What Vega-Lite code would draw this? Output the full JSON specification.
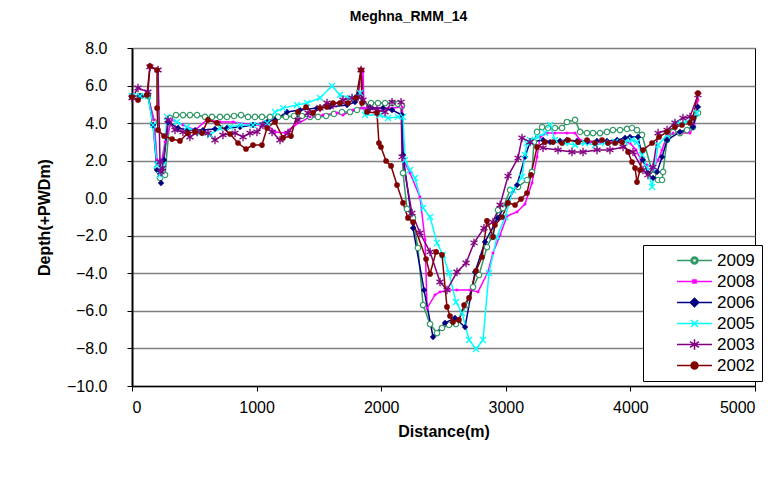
{
"$schema": "https://vega.github.io/schema/vega-lite/v6.json",
"width": 623, "height": 338,
"autosize": {"type": "none"},
"padding": {"left": 132, "top": 48, "right": 27, "bottom": 91},
"background": "white",
"title": {"text": "Meghna_RMM_14", "font": "Liberation Sans", "fontSize": 14, "fontWeight": "bold", "color": "black", "anchor": "middle", "dx": -35, "offset": 16},
"config": {
 "view": {"stroke": "#000000", "strokeWidth": 1},
 "axis": {"labelFont": "Liberation Sans", "labelFontSize": 16, "labelColor": "black", "titleFont": "Liberation Sans", "titleFontSize": 16, "titleFontWeight": "bold", "titleColor": "black", "domainColor": "black", "tickColor": "black", "tickSize": 5}
},
"data": {"values": [
{"year":"2009","i":1,"d":0,"v":5.44},{"year":"2009","i":2,"d":64,"v":5.44},{"year":"2009","i":3,"d":128,"v":5.44},{"year":"2009","i":4,"d":177,"v":4.06},{"year":"2009","i":5,"d":201,"v":1.61},{"year":"2009","i":6,"d":225,"v":1.08},{"year":"2009","i":7,"d":265,"v":1.24},{"year":"2009","i":8,"d":305,"v":4.27},{"year":"2009","i":9,"d":353,"v":4.43},{"year":"2009","i":10,"d":409,"v":4.43},{"year":"2009","i":11,"d":465,"v":4.43},{"year":"2009","i":12,"d":522,"v":4.43},{"year":"2009","i":13,"d":586,"v":4.33},{"year":"2009","i":14,"d":642,"v":4.33},{"year":"2009","i":15,"d":706,"v":4.33},{"year":"2009","i":16,"d":762,"v":4.33},{"year":"2009","i":17,"d":819,"v":4.38},{"year":"2009","i":18,"d":875,"v":4.43},{"year":"2009","i":19,"d":931,"v":4.33},{"year":"2009","i":20,"d":987,"v":4.33},{"year":"2009","i":21,"d":1043,"v":4.33},{"year":"2009","i":22,"d":1108,"v":4.33},{"year":"2009","i":23,"d":1172,"v":4.33},{"year":"2009","i":24,"d":1236,"v":4.33},{"year":"2009","i":25,"d":1300,"v":4.38},{"year":"2009","i":26,"d":1364,"v":4.38},{"year":"2009","i":27,"d":1429,"v":4.33},{"year":"2009","i":28,"d":1493,"v":4.33},{"year":"2009","i":29,"d":1557,"v":4.38},{"year":"2009","i":30,"d":1621,"v":4.49},{"year":"2009","i":31,"d":1685,"v":4.59},{"year":"2009","i":32,"d":1750,"v":4.59},{"year":"2009","i":33,"d":1806,"v":4.7},{"year":"2009","i":34,"d":1862,"v":4.91},{"year":"2009","i":35,"d":1918,"v":5.07},{"year":"2009","i":36,"d":1974,"v":5.07},{"year":"2009","i":37,"d":2031,"v":5.07},{"year":"2009","i":38,"d":2087,"v":5.07},{"year":"2009","i":39,"d":2135,"v":5.02},{"year":"2009","i":40,"d":2167,"v":4.91},{"year":"2009","i":41,"d":2175,"v":1.34},{"year":"2009","i":42,"d":2207,"v":-0.57},{"year":"2009","i":43,"d":2255,"v":-1.05},{"year":"2009","i":44,"d":2295,"v":-2.65},{"year":"2009","i":45,"d":2336,"v":-5.69},{"year":"2009","i":46,"d":2392,"v":-6.7},{"year":"2009","i":47,"d":2448,"v":-7.18},{"year":"2009","i":48,"d":2488,"v":-6.91},{"year":"2009","i":49,"d":2544,"v":-6.75},{"year":"2009","i":50,"d":2600,"v":-6.7},{"year":"2009","i":51,"d":2681,"v":-5.69},{"year":"2009","i":52,"d":2737,"v":-4.73},{"year":"2009","i":53,"d":2785,"v":-4.09},{"year":"2009","i":54,"d":2849,"v":-2.6},{"year":"2009","i":55,"d":2889,"v":-2.06},{"year":"2009","i":56,"d":2937,"v":-0.63},{"year":"2009","i":57,"d":2978,"v":-0.52},{"year":"2009","i":58,"d":3034,"v":0.44},{"year":"2009","i":59,"d":3098,"v":0.6},{"year":"2009","i":60,"d":3170,"v":0.97},{"year":"2009","i":61,"d":3210,"v":1.4},{"year":"2009","i":62,"d":3226,"v":2.99},{"year":"2009","i":63,"d":3251,"v":3.53},{"year":"2009","i":64,"d":3291,"v":3.79},{"year":"2009","i":65,"d":3339,"v":3.74},{"year":"2009","i":66,"d":3395,"v":3.74},{"year":"2009","i":67,"d":3451,"v":3.74},{"year":"2009","i":68,"d":3491,"v":4.06},{"year":"2009","i":69,"d":3556,"v":4.17},{"year":"2009","i":70,"d":3596,"v":3.53},{"year":"2009","i":71,"d":3652,"v":3.47},{"year":"2009","i":72,"d":3700,"v":3.47},{"year":"2009","i":73,"d":3756,"v":3.47},{"year":"2009","i":74,"d":3812,"v":3.53},{"year":"2009","i":75,"d":3860,"v":3.63},{"year":"2009","i":76,"d":3917,"v":3.63},{"year":"2009","i":77,"d":3973,"v":3.69},{"year":"2009","i":78,"d":4013,"v":3.74},{"year":"2009","i":79,"d":4053,"v":3.63},{"year":"2009","i":80,"d":4093,"v":3.37},{"year":"2009","i":81,"d":4182,"v":1.24},{"year":"2009","i":82,"d":4222,"v":0.97},{"year":"2009","i":83,"d":4254,"v":0.97},{"year":"2009","i":84,"d":4262,"v":1.4},{"year":"2009","i":85,"d":4294,"v":3.1},{"year":"2009","i":86,"d":4342,"v":3.53},{"year":"2009","i":87,"d":4398,"v":3.47},{"year":"2009","i":88,"d":4454,"v":3.63},{"year":"2009","i":89,"d":4502,"v":3.79},{"year":"2009","i":90,"d":4542,"v":4.54},
{"year":"2008","i":1,"d":0,"v":5.39},{"year":"2008","i":2,"d":64,"v":5.44},{"year":"2008","i":3,"d":128,"v":5.44},{"year":"2008","i":4,"d":177,"v":4.17},{"year":"2008","i":5,"d":201,"v":2.04},{"year":"2008","i":6,"d":225,"v":1.5},{"year":"2008","i":7,"d":265,"v":3.0},{"year":"2008","i":8,"d":321,"v":4.17},{"year":"2008","i":9,"d":409,"v":3.9},{"year":"2008","i":10,"d":506,"v":3.63},{"year":"2008","i":11,"d":602,"v":4.17},{"year":"2008","i":12,"d":706,"v":4.06},{"year":"2008","i":13,"d":811,"v":4.06},{"year":"2008","i":14,"d":971,"v":3.9},{"year":"2008","i":15,"d":1084,"v":3.9},{"year":"2008","i":16,"d":1148,"v":3.53},{"year":"2008","i":17,"d":1228,"v":3.47},{"year":"2008","i":18,"d":1308,"v":3.9},{"year":"2008","i":19,"d":1429,"v":4.33},{"year":"2008","i":20,"d":1533,"v":4.43},{"year":"2008","i":21,"d":1645,"v":4.54},{"year":"2008","i":22,"d":1693,"v":4.43},{"year":"2008","i":23,"d":1774,"v":4.7},{"year":"2008","i":24,"d":1846,"v":4.8},{"year":"2008","i":25,"d":1854,"v":6.83},{"year":"2008","i":26,"d":1862,"v":4.8},{"year":"2008","i":27,"d":1886,"v":4.8},{"year":"2008","i":28,"d":1990,"v":4.8},{"year":"2008","i":29,"d":2095,"v":4.8},{"year":"2008","i":30,"d":2170,"v":4.86},{"year":"2008","i":31,"d":2178,"v":2.04},{"year":"2008","i":32,"d":2231,"v":1.34},{"year":"2008","i":33,"d":2311,"v":0.07},{"year":"2008","i":34,"d":2352,"v":-2.22},{"year":"2008","i":35,"d":2368,"v":-5.85},{"year":"2008","i":36,"d":2432,"v":-5.15},{"year":"2008","i":37,"d":2472,"v":-4.99},{"year":"2008","i":38,"d":2536,"v":-4.89},{"year":"2008","i":39,"d":2608,"v":-4.89},{"year":"2008","i":40,"d":2713,"v":-4.89},{"year":"2008","i":41,"d":2777,"v":-4.99},{"year":"2008","i":42,"d":2857,"v":-3.93},{"year":"2008","i":43,"d":2897,"v":-2.92},{"year":"2008","i":44,"d":2954,"v":-1.96},{"year":"2008","i":45,"d":3010,"v":-0.95},{"year":"2008","i":46,"d":3090,"v":-0.73},{"year":"2008","i":47,"d":3154,"v":-0.31},{"year":"2008","i":48,"d":3210,"v":0.81},{"year":"2008","i":49,"d":3251,"v":2.2},{"year":"2008","i":50,"d":3275,"v":3.26},{"year":"2008","i":51,"d":3331,"v":3.47},{"year":"2008","i":52,"d":3395,"v":3.47},{"year":"2008","i":53,"d":3491,"v":3.47},{"year":"2008","i":54,"d":3556,"v":3.47},{"year":"2008","i":55,"d":3596,"v":3.1},{"year":"2008","i":56,"d":3676,"v":2.99},{"year":"2008","i":57,"d":3756,"v":2.99},{"year":"2008","i":58,"d":3836,"v":2.99},{"year":"2008","i":59,"d":3917,"v":3.05},{"year":"2008","i":60,"d":3997,"v":2.94},{"year":"2008","i":61,"d":4045,"v":2.57},{"year":"2008","i":62,"d":4085,"v":2.04},{"year":"2008","i":63,"d":4133,"v":1.77},{"year":"2008","i":64,"d":4182,"v":1.61},{"year":"2008","i":65,"d":4222,"v":2.04},{"year":"2008","i":66,"d":4254,"v":2.57},{"year":"2008","i":67,"d":4294,"v":3.37},{"year":"2008","i":68,"d":4342,"v":3.47},{"year":"2008","i":69,"d":4398,"v":3.47},{"year":"2008","i":70,"d":4478,"v":3.47},{"year":"2008","i":71,"d":4510,"v":3.9},{"year":"2008","i":72,"d":4542,"v":5.23},
{"year":"2006","i":1,"d":0,"v":5.44},{"year":"2006","i":2,"d":64,"v":5.44},{"year":"2006","i":3,"d":128,"v":5.5},{"year":"2006","i":4,"d":169,"v":3.9},{"year":"2006","i":5,"d":201,"v":1.5},{"year":"2006","i":6,"d":233,"v":0.81},{"year":"2006","i":7,"d":257,"v":2.04},{"year":"2006","i":8,"d":289,"v":4.06},{"year":"2006","i":9,"d":369,"v":3.74},{"year":"2006","i":10,"d":441,"v":3.63},{"year":"2006","i":11,"d":506,"v":3.63},{"year":"2006","i":12,"d":570,"v":3.63},{"year":"2006","i":13,"d":666,"v":3.69},{"year":"2006","i":14,"d":762,"v":3.74},{"year":"2006","i":15,"d":867,"v":3.79},{"year":"2006","i":16,"d":971,"v":3.9},{"year":"2006","i":17,"d":1084,"v":4.06},{"year":"2006","i":18,"d":1148,"v":4.17},{"year":"2006","i":19,"d":1244,"v":4.59},{"year":"2006","i":20,"d":1348,"v":4.7},{"year":"2006","i":21,"d":1485,"v":4.8},{"year":"2006","i":22,"d":1589,"v":4.86},{"year":"2006","i":23,"d":1726,"v":4.96},{"year":"2006","i":24,"d":1790,"v":5.12},{"year":"2006","i":25,"d":1814,"v":5.5},{"year":"2006","i":26,"d":1910,"v":4.8},{"year":"2006","i":27,"d":2015,"v":4.8},{"year":"2006","i":28,"d":2087,"v":4.7},{"year":"2006","i":29,"d":2167,"v":4.43},{"year":"2006","i":30,"d":2175,"v":2.3},{"year":"2006","i":31,"d":2255,"v":-1.59},{"year":"2006","i":32,"d":2344,"v":-4.89},{"year":"2006","i":33,"d":2416,"v":-7.39},{"year":"2006","i":34,"d":2512,"v":-6.64},{"year":"2006","i":35,"d":2592,"v":-6.38},{"year":"2006","i":36,"d":2673,"v":-6.86},{"year":"2006","i":37,"d":2753,"v":-3.93},{"year":"2006","i":38,"d":2833,"v":-2.33},{"year":"2006","i":39,"d":2937,"v":-1.05},{"year":"2006","i":40,"d":3090,"v":0.7},{"year":"2006","i":41,"d":3154,"v":2.2},{"year":"2006","i":42,"d":3194,"v":2.99},{"year":"2006","i":43,"d":3299,"v":3.1},{"year":"2006","i":44,"d":3355,"v":2.99},{"year":"2006","i":45,"d":3435,"v":3.05},{"year":"2006","i":46,"d":3491,"v":3.1},{"year":"2006","i":47,"d":3572,"v":3.05},{"year":"2006","i":48,"d":3652,"v":2.99},{"year":"2006","i":49,"d":3732,"v":3.05},{"year":"2006","i":50,"d":3812,"v":3.05},{"year":"2006","i":51,"d":3893,"v":3.1},{"year":"2006","i":52,"d":3957,"v":3.21},{"year":"2006","i":53,"d":3997,"v":3.26},{"year":"2006","i":54,"d":4061,"v":3.26},{"year":"2006","i":55,"d":4101,"v":2.04},{"year":"2006","i":56,"d":4141,"v":1.34},{"year":"2006","i":57,"d":4182,"v":1.08},{"year":"2006","i":58,"d":4214,"v":1.4},{"year":"2006","i":59,"d":4254,"v":2.2},{"year":"2006","i":60,"d":4294,"v":3.1},{"year":"2006","i":61,"d":4398,"v":3.53},{"year":"2006","i":62,"d":4502,"v":3.79},{"year":"2006","i":63,"d":4542,"v":4.86},
{"year":"2005","i":1,"d":0,"v":5.44},{"year":"2005","i":2,"d":64,"v":5.44},{"year":"2005","i":3,"d":128,"v":5.44},{"year":"2005","i":4,"d":169,"v":3.9},{"year":"2005","i":5,"d":201,"v":1.77},{"year":"2005","i":6,"d":225,"v":1.24},{"year":"2005","i":7,"d":249,"v":1.77},{"year":"2005","i":8,"d":281,"v":4.33},{"year":"2005","i":9,"d":361,"v":4.06},{"year":"2005","i":10,"d":441,"v":3.79},{"year":"2005","i":11,"d":546,"v":3.47},{"year":"2005","i":12,"d":626,"v":3.37},{"year":"2005","i":13,"d":706,"v":3.74},{"year":"2005","i":14,"d":787,"v":3.79},{"year":"2005","i":15,"d":867,"v":3.9},{"year":"2005","i":16,"d":971,"v":3.9},{"year":"2005","i":17,"d":1084,"v":4.01},{"year":"2005","i":18,"d":1148,"v":4.59},{"year":"2005","i":19,"d":1212,"v":4.8},{"year":"2005","i":20,"d":1324,"v":4.96},{"year":"2005","i":21,"d":1405,"v":5.07},{"year":"2005","i":22,"d":1509,"v":5.34},{"year":"2005","i":23,"d":1605,"v":5.98},{"year":"2005","i":24,"d":1669,"v":5.5},{"year":"2005","i":25,"d":1750,"v":5.34},{"year":"2005","i":26,"d":1814,"v":5.39},{"year":"2005","i":27,"d":1830,"v":5.6},{"year":"2005","i":28,"d":1870,"v":4.43},{"year":"2005","i":29,"d":1990,"v":4.43},{"year":"2005","i":30,"d":2055,"v":4.27},{"year":"2005","i":31,"d":2135,"v":4.33},{"year":"2005","i":32,"d":2175,"v":4.33},{"year":"2005","i":33,"d":2191,"v":2.04},{"year":"2005","i":34,"d":2231,"v":1.5},{"year":"2005","i":35,"d":2271,"v":1.08},{"year":"2005","i":36,"d":2336,"v":-0.52},{"year":"2005","i":37,"d":2392,"v":-1.0},{"year":"2005","i":38,"d":2448,"v":-2.38},{"year":"2005","i":39,"d":2496,"v":-3.02},{"year":"2005","i":40,"d":2544,"v":-3.98},{"year":"2005","i":41,"d":2600,"v":-5.53},{"year":"2005","i":42,"d":2649,"v":-6.11},{"year":"2005","i":43,"d":2705,"v":-7.55},{"year":"2005","i":44,"d":2761,"v":-8.03},{"year":"2005","i":45,"d":2817,"v":-7.55},{"year":"2005","i":46,"d":2865,"v":-3.98},{"year":"2005","i":47,"d":2929,"v":-2.06},{"year":"2005","i":48,"d":2994,"v":-1.0},{"year":"2005","i":49,"d":3058,"v":0.44},{"year":"2005","i":50,"d":3130,"v":1.13},{"year":"2005","i":51,"d":3154,"v":2.3},{"year":"2005","i":52,"d":3170,"v":2.94},{"year":"2005","i":53,"d":3194,"v":3.1},{"year":"2005","i":54,"d":3259,"v":3.26},{"year":"2005","i":55,"d":3315,"v":3.47},{"year":"2005","i":56,"d":3355,"v":3.9},{"year":"2005","i":57,"d":3395,"v":3.1},{"year":"2005","i":58,"d":3475,"v":2.94},{"year":"2005","i":59,"d":3556,"v":2.83},{"year":"2005","i":60,"d":3636,"v":2.94},{"year":"2005","i":61,"d":3716,"v":2.83},{"year":"2005","i":62,"d":3796,"v":2.94},{"year":"2005","i":63,"d":3877,"v":2.99},{"year":"2005","i":64,"d":3957,"v":2.99},{"year":"2005","i":65,"d":4013,"v":3.1},{"year":"2005","i":66,"d":4053,"v":2.99},{"year":"2005","i":67,"d":4093,"v":2.3},{"year":"2005","i":68,"d":4133,"v":1.66},{"year":"2005","i":69,"d":4174,"v":0.6},{"year":"2005","i":70,"d":4222,"v":2.83},{"year":"2005","i":71,"d":4294,"v":3.37},{"year":"2005","i":72,"d":4374,"v":4.01},{"year":"2005","i":73,"d":4454,"v":4.06},{"year":"2005","i":74,"d":4534,"v":4.54},
{"year":"2003","i":1,"d":0,"v":5.34},{"year":"2003","i":2,"d":48,"v":5.87},{"year":"2003","i":3,"d":128,"v":5.66},{"year":"2003","i":4,"d":144,"v":6.99},{"year":"2003","i":5,"d":209,"v":6.83},{"year":"2003","i":6,"d":225,"v":1.93},{"year":"2003","i":7,"d":233,"v":1.4},{"year":"2003","i":8,"d":245,"v":1.6},{"year":"2003","i":9,"d":289,"v":4.17},{"year":"2003","i":10,"d":345,"v":3.63},{"year":"2003","i":11,"d":409,"v":3.53},{"year":"2003","i":12,"d":465,"v":3.26},{"year":"2003","i":13,"d":522,"v":3.53},{"year":"2003","i":14,"d":610,"v":3.47},{"year":"2003","i":15,"d":666,"v":3.1},{"year":"2003","i":16,"d":730,"v":3.37},{"year":"2003","i":17,"d":827,"v":3.47},{"year":"2003","i":18,"d":891,"v":3.26},{"year":"2003","i":19,"d":947,"v":3.47},{"year":"2003","i":20,"d":1003,"v":3.53},{"year":"2003","i":21,"d":1051,"v":3.9},{"year":"2003","i":22,"d":1124,"v":3.53},{"year":"2003","i":23,"d":1188,"v":3.1},{"year":"2003","i":24,"d":1252,"v":3.47},{"year":"2003","i":25,"d":1332,"v":4.17},{"year":"2003","i":26,"d":1413,"v":4.54},{"year":"2003","i":27,"d":1509,"v":4.8},{"year":"2003","i":28,"d":1565,"v":5.07},{"year":"2003","i":29,"d":1613,"v":4.96},{"year":"2003","i":30,"d":1693,"v":5.23},{"year":"2003","i":31,"d":1766,"v":5.34},{"year":"2003","i":32,"d":1814,"v":5.39},{"year":"2003","i":33,"d":1838,"v":6.83},{"year":"2003","i":34,"d":1854,"v":5.23},{"year":"2003","i":35,"d":1910,"v":4.8},{"year":"2003","i":36,"d":1966,"v":4.7},{"year":"2003","i":37,"d":2031,"v":4.59},{"year":"2003","i":38,"d":2087,"v":5.12},{"year":"2003","i":39,"d":2159,"v":5.12},{"year":"2003","i":40,"d":2167,"v":2.2},{"year":"2003","i":41,"d":2247,"v":-0.79},{"year":"2003","i":42,"d":2311,"v":-1.85},{"year":"2003","i":43,"d":2392,"v":-2.86},{"year":"2003","i":44,"d":2472,"v":-4.46},{"year":"2003","i":45,"d":2528,"v":-4.89},{"year":"2003","i":46,"d":2608,"v":-3.93},{"year":"2003","i":47,"d":2681,"v":-3.45},{"year":"2003","i":48,"d":2745,"v":-2.38},{"year":"2003","i":49,"d":2825,"v":-1.59},{"year":"2003","i":50,"d":2897,"v":-1.27},{"year":"2003","i":51,"d":2954,"v":-0.36},{"year":"2003","i":52,"d":3018,"v":1.18},{"year":"2003","i":53,"d":3098,"v":2.14},{"year":"2003","i":54,"d":3130,"v":3.21},{"year":"2003","i":55,"d":3194,"v":2.99},{"year":"2003","i":56,"d":3299,"v":2.68},{"year":"2003","i":57,"d":3419,"v":2.57},{"year":"2003","i":58,"d":3531,"v":2.46},{"year":"2003","i":59,"d":3620,"v":2.46},{"year":"2003","i":60,"d":3732,"v":2.57},{"year":"2003","i":61,"d":3836,"v":2.57},{"year":"2003","i":62,"d":3941,"v":2.73},{"year":"2003","i":63,"d":4021,"v":2.46},{"year":"2003","i":64,"d":4101,"v":1.5},{"year":"2003","i":65,"d":4141,"v":1.24},{"year":"2003","i":66,"d":4182,"v":1.66},{"year":"2003","i":67,"d":4222,"v":3.47},{"year":"2003","i":68,"d":4294,"v":3.63},{"year":"2003","i":69,"d":4358,"v":4.01},{"year":"2003","i":70,"d":4422,"v":4.27},{"year":"2003","i":71,"d":4478,"v":4.33},{"year":"2003","i":72,"d":4542,"v":5.5},
{"year":"2002","i":1,"d":0,"v":5.39},{"year":"2002","i":2,"d":48,"v":5.23},{"year":"2002","i":3,"d":120,"v":5.5},{"year":"2002","i":4,"d":144,"v":7.04},{"year":"2002","i":5,"d":201,"v":6.83},{"year":"2002","i":6,"d":201,"v":4.8},{"year":"2002","i":7,"d":209,"v":3.63},{"year":"2002","i":8,"d":257,"v":3.31},{"year":"2002","i":9,"d":321,"v":3.15},{"year":"2002","i":10,"d":385,"v":3.05},{"year":"2002","i":11,"d":449,"v":3.47},{"year":"2002","i":12,"d":506,"v":3.53},{"year":"2002","i":13,"d":562,"v":3.47},{"year":"2002","i":14,"d":610,"v":4.17},{"year":"2002","i":15,"d":682,"v":4.01},{"year":"2002","i":16,"d":787,"v":3.42},{"year":"2002","i":17,"d":851,"v":2.94},{"year":"2002","i":18,"d":915,"v":2.62},{"year":"2002","i":19,"d":971,"v":2.83},{"year":"2002","i":20,"d":1043,"v":2.83},{"year":"2002","i":21,"d":1084,"v":3.74},{"year":"2002","i":22,"d":1148,"v":4.06},{"year":"2002","i":23,"d":1212,"v":3.21},{"year":"2002","i":24,"d":1276,"v":3.31},{"year":"2002","i":25,"d":1332,"v":4.59},{"year":"2002","i":26,"d":1397,"v":4.86},{"year":"2002","i":27,"d":1453,"v":4.54},{"year":"2002","i":28,"d":1509,"v":4.8},{"year":"2002","i":29,"d":1565,"v":4.86},{"year":"2002","i":30,"d":1613,"v":5.07},{"year":"2002","i":31,"d":1669,"v":5.07},{"year":"2002","i":32,"d":1734,"v":5.07},{"year":"2002","i":33,"d":1798,"v":5.34},{"year":"2002","i":34,"d":1838,"v":6.83},{"year":"2002","i":35,"d":1846,"v":5.07},{"year":"2002","i":36,"d":1886,"v":4.59},{"year":"2002","i":37,"d":1966,"v":4.54},{"year":"2002","i":38,"d":1982,"v":2.94},{"year":"2002","i":39,"d":1998,"v":2.73},{"year":"2002","i":40,"d":2039,"v":1.98},{"year":"2002","i":41,"d":2079,"v":1.72},{"year":"2002","i":42,"d":2127,"v":0.7},{"year":"2002","i":43,"d":2175,"v":-0.25},{"year":"2002","i":44,"d":2215,"v":-1.05},{"year":"2002","i":45,"d":2255,"v":-1.27},{"year":"2002","i":46,"d":2360,"v":-3.24},{"year":"2002","i":47,"d":2392,"v":-4.03},{"year":"2002","i":48,"d":2440,"v":-2.86},{"year":"2002","i":49,"d":2488,"v":-3.02},{"year":"2002","i":50,"d":2528,"v":-5.79},{"year":"2002","i":51,"d":2552,"v":-6.27},{"year":"2002","i":52,"d":2576,"v":-6.59},{"year":"2002","i":53,"d":2624,"v":-6.48},{"year":"2002","i":54,"d":2665,"v":-5.69},{"year":"2002","i":55,"d":2705,"v":-5.31},{"year":"2002","i":56,"d":2761,"v":-3.87},{"year":"2002","i":57,"d":2809,"v":-3.13},{"year":"2002","i":58,"d":2849,"v":-1.21},{"year":"2002","i":59,"d":2897,"v":-2.06},{"year":"2002","i":60,"d":2913,"v":-1.43},{"year":"2002","i":61,"d":2970,"v":-1.0},{"year":"2002","i":62,"d":3018,"v":-0.25},{"year":"2002","i":63,"d":3074,"v":-0.36},{"year":"2002","i":64,"d":3122,"v":-0.04},{"year":"2002","i":65,"d":3170,"v":0.28},{"year":"2002","i":66,"d":3202,"v":1.24},{"year":"2002","i":67,"d":3251,"v":2.73},{"year":"2002","i":68,"d":3315,"v":2.99},{"year":"2002","i":69,"d":3379,"v":2.99},{"year":"2002","i":70,"d":3451,"v":2.94},{"year":"2002","i":71,"d":3499,"v":3.1},{"year":"2002","i":72,"d":3580,"v":2.99},{"year":"2002","i":73,"d":3652,"v":3.1},{"year":"2002","i":74,"d":3716,"v":2.94},{"year":"2002","i":75,"d":3772,"v":3.1},{"year":"2002","i":76,"d":3820,"v":2.94},{"year":"2002","i":77,"d":3877,"v":2.94},{"year":"2002","i":78,"d":3933,"v":2.99},{"year":"2002","i":79,"d":3981,"v":2.46},{"year":"2002","i":80,"d":4013,"v":1.93},{"year":"2002","i":81,"d":4037,"v":1.61},{"year":"2002","i":82,"d":4053,"v":0.86},{"year":"2002","i":83,"d":4077,"v":1.5},{"year":"2002","i":84,"d":4101,"v":2.57},{"year":"2002","i":85,"d":4174,"v":2.94},{"year":"2002","i":86,"d":4230,"v":3.26},{"year":"2002","i":87,"d":4294,"v":3.53},{"year":"2002","i":88,"d":4358,"v":3.79},{"year":"2002","i":89,"d":4414,"v":3.9},{"year":"2002","i":90,"d":4478,"v":4.01},{"year":"2002","i":91,"d":4502,"v":4.27},{"year":"2002","i":92,"d":4542,"v":5.6}
]},
"encoding": {
 "x": {"field": "d", "type": "quantitative", "scale": {"domain": [0, 5000], "nice": false},
  "axis": {"values": [0, 1000, 2000, 3000, 4000, 5000], "format": "d", "title": "Distance(m)", "grid": false, "domainWidth": 1.5, "labelPadding": 8, "titlePadding": 8}},
 "y": {"field": "v", "type": "quantitative", "scale": {"domain": [-10, 8], "nice": false},
  "axis": {"values": [-10, -8, -6, -4, -2, 0, 2, 4, 6, 8], "format": ".1f", "title": "Depth(+PWDm)", "grid": true, "gridColor": "#808080", "gridWidth": 1.5, "domainWidth": 2, "labelPadding": 20, "titlePadding": 14}},
 "color": {"field": "year", "type": "nominal",
  "scale": {"domain": ["2009", "2008", "2006", "2005", "2003", "2002"], "range": ["#339966", "#FF00FF", "#000080", "#00FFFF", "#800080", "#800000"]},
  "legend": {"title": null, "orient": "none", "legendX": 511, "legendY": 197, "direction": "vertical",
   "strokeColor": "black", "fillColor": "white", "padding": 7, "cornerRadius": 0,
   "labelFont": "Liberation Sans", "labelFontSize": 17, "labelColor": "black", "labelOffset": 14,
   "symbolOffset": 36, "symbolSize": 49, "rowPadding": 3, "symbolStrokeWidth": 1.5,
   "encode": {"symbols": {"update": {
    "shape": {"signal": "datum.value === '2009' ? 'M-5,0L-1,0M1,0L5,0M-1,0A1,1 0 1,0 1,0A1,1 0 1,0 -1,0M-0.6,0A0.6,0.6 0 1,1 0.6,0A0.6,0.6 0 1,1 -0.6,0' : datum.value === '2008' ? 'M-5,0L5,0M-0.45,-0.45L0.45,-0.45L0.45,0.45L-0.45,0.45Z' : datum.value === '2006' ? 'M-5,0L5,0M0,-1.2L1.2,0L0,1.2L-1.2,0Z' : datum.value === '2005' ? 'M-5,0L5,0M-1,-1L1,1M-1,1L1,-1' : datum.value === '2003' ? 'M-5,0L5,0M0,-1.5L0,1.5M-1.3,-0.8L1.3,0.8M-1.3,0.8L1.3,-0.8' : 'M-5,0L5,0M-1,0A1,1 0 1,0 1,0A1,1 0 1,0 -1,0'"},
    "stroke": {"signal": "datum.value === '2009' ? '#339966' : datum.value === '2008' ? '#FF00FF' : datum.value === '2006' ? '#000080' : datum.value === '2005' ? '#00FFFF' : datum.value === '2003' ? '#800080' : '#800000'"},
    "size": {"value": 49},
    "opacity": {"value": 1},
    "strokeWidth": {"value": 1.5}
   }}}
  }},
 "order": {"field": "i", "type": "quantitative"}
},
"layer": [
 {"mark": {"type": "line", "strokeWidth": 1.5}},
 {"transform": [{"filter": "datum.year === '2009'"}], "mark": {"type": "point", "shape": "circle", "filled": false, "fill": "white", "size": 30, "strokeWidth": 1.2, "opacity": 1}},
 {"transform": [{"filter": "datum.year === '2008'"}], "mark": {"type": "point", "shape": "square", "filled": true, "size": 7, "opacity": 1}},
 {"transform": [{"filter": "datum.year === '2006'"}], "mark": {"type": "point", "shape": "diamond", "filled": true, "size": 40, "opacity": 1}},
 {"transform": [{"filter": "datum.year === '2005'"}], "mark": {"type": "point", "shape": "M-1,-1L1,1M-1,1L1,-1", "filled": false, "size": 36, "strokeWidth": 1.3, "opacity": 1}},
 {"transform": [{"filter": "datum.year === '2003'"}], "mark": {"type": "point", "shape": "M0,-1.2L0,1.2M-1,-0.6L1,0.6M-1,0.6L1,-0.6", "filled": false, "size": 49, "strokeWidth": 1.3, "opacity": 1}},
 {"transform": [{"filter": "datum.year === '2002'"}], "mark": {"type": "point", "shape": "circle", "filled": true, "size": 32, "opacity": 1}}
]
}
